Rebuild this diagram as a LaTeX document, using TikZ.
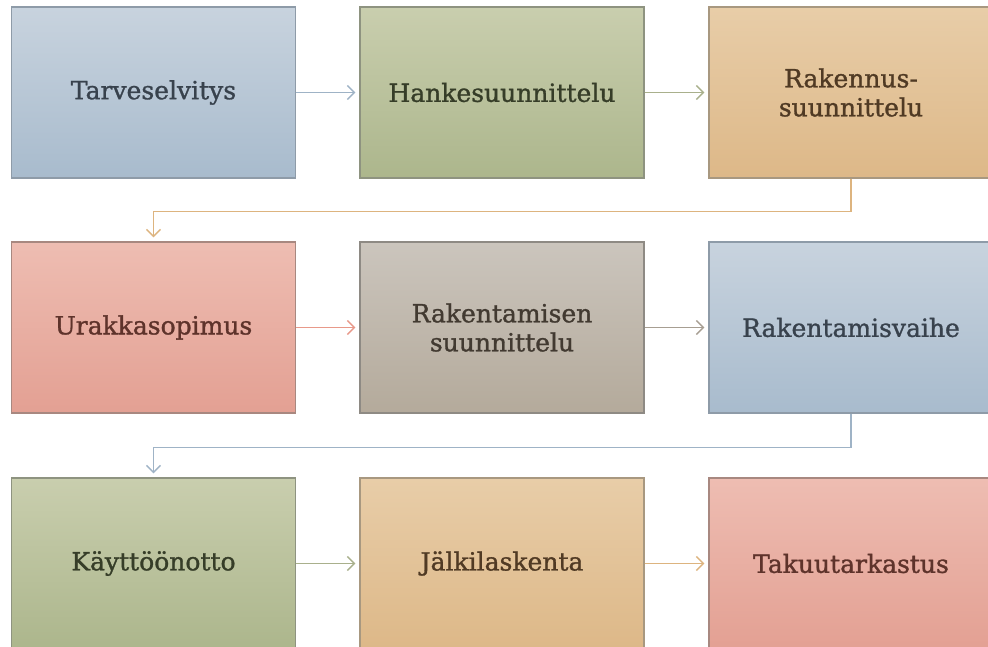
\documentclass[tikz,border=0pt]{standalone}
\usepackage{fontspec}
\setmainfont{DejaVu Serif}
\newfontfamily\stagefont[FakeBold=1.2]{DejaVu Serif}
\usetikzlibrary{arrows.meta}
\definecolor{bTop}{HTML}{C8D3DE}\definecolor{bBot}{HTML}{A8BBCD}\definecolor{bLine}{HTML}{8E9BA8}\definecolor{bText}{HTML}{38424D}\definecolor{bArr}{HTML}{9FB3C6}
\definecolor{gTop}{HTML}{C9CEAE}\definecolor{gBot}{HTML}{ACB68C}\definecolor{gLine}{HTML}{8E9380}\definecolor{gText}{HTML}{363D28}\definecolor{gArr}{HTML}{A9B08C}
\definecolor{tTop}{HTML}{E8CDA8}\definecolor{tBot}{HTML}{DDB888}\definecolor{tLine}{HTML}{A89880}\definecolor{tText}{HTML}{503A24}\definecolor{tArr}{HTML}{DDB47F}
\definecolor{sTop}{HTML}{EEBDB2}\definecolor{sBot}{HTML}{E3A093}\definecolor{sLine}{HTML}{A88880}\definecolor{sText}{HTML}{5E332B}\definecolor{sArr}{HTML}{E8998A}
\definecolor{kTop}{HTML}{CBC5BD}\definecolor{kBot}{HTML}{B4AA9B}\definecolor{kLine}{HTML}{8E8A84}\definecolor{kText}{HTML}{423A31}\definecolor{kArr}{HTML}{A79E92}
\tikzset{
  stage/.style={rectangle, minimum width=284pt, minimum height=171pt, line width=1.3pt, align=center,
    font=\stagefont\fontsize{25}{29}\selectfont, inner sep=0pt},
  blue/.style={stage, top color=bTop, bottom color=bBot, draw=bLine, text=bText},
  green/.style={stage, top color=gTop, bottom color=gBot, draw=gLine, text=gText},
  tan/.style={stage, top color=tTop, bottom color=tBot, draw=tLine, text=tText},
  salmon/.style={stage, top color=sTop, bottom color=sBot, draw=sLine, text=sText},
  taupe/.style={stage, top color=kTop, bottom color=kBot, draw=kLine, text=kText},
  flow/.style={line width=1.4pt, -{Straight Barb[length=7pt,width=14pt,line width=1.4pt]}, shorten >=4pt},
}
\begin{document}
\begin{tikzpicture}[x=1pt,y=-1pt]
\clip (0,0) rectangle (988,647);
\fill[white] (0,0) rectangle (988,647);
\node[blue]   (n1) at (153.5,92.5) {Tarveselvitys};
\node[green]  (n2) at (502,92.5) {Hankesuunnittelu};
\node[tan]    (n3) at (851,92.5) {Rakennus-\\suunnittelu};
\node[salmon] (n4) at (153.5,327.5) {Urakkasopimus};
\node[taupe]  (n5) at (502,327.5) {Rakentamisen\\suunnittelu};
\node[blue]   (n6) at (851,327.5) {Rakentamisvaihe};
\node[green]  (n7) at (153.5,563.5) {Käyttöönotto};
\node[tan]    (n8) at (502,563.5) {Jälkilaskenta};
\node[salmon] (n9) at (851,563.5) {Takuutarkastus};
\draw[flow, draw=bArr] (n1) -- (n2);
\draw[flow, draw=gArr] (n2) -- (n3);
\draw[flow, draw=sArr] (n4) -- (n5);
\draw[flow, draw=kArr] (n5) -- (n6);
\draw[flow, draw=gArr] (n7) -- (n8);
\draw[flow, draw=tArr] (n8) -- (n9);
\draw[flow, draw=tArr] (n3.south) -- ++(0,33) -| (n4.north);
\draw[flow, draw=bArr] (n6.south) -- ++(0,34) -| (n7.north);
\end{tikzpicture}
\end{document}
